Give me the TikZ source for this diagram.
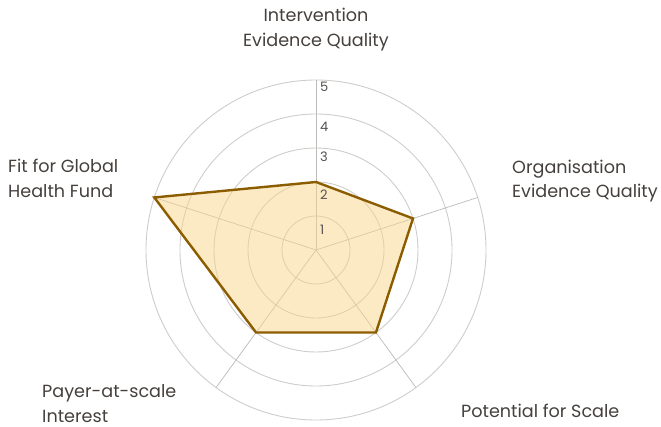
\documentclass[tikz,border=0pt]{standalone}
\usepackage{fontspec}
\setmainfont{Poppins}
\usetikzlibrary{calc}
\definecolor{txt}{HTML}{45403D}
\definecolor{ringc}{HTML}{CFCDCB}
\definecolor{axisc}{HTML}{BDBAB7}
\definecolor{polyline}{HTML}{8C5D00}
\definecolor{polyfill}{HTML}{F9D58C}
\definecolor{numc}{HTML}{55504D}
\tikzset{
  ring/.style={draw=ringc, line width=0.9pt},
  axisline/.style={draw=axisc, line width=0.7pt},
  lbl/.style={text=txt, font=\fontsize{17.6}{24.5}\selectfont, inner sep=0pt, align=left},
  num/.style={text=numc, font=\fontsize{13}{14}\selectfont, inner sep=0pt, anchor=north west},
  poly/.style={draw=polyline, line width=2.4pt, line join=miter, fill=polyfill, fill opacity=0.5}
}
\begin{document}
\begin{tikzpicture}[x=1pt,y=-1pt]
\useasboundingbox (0,0) rectangle (661,427);
\coordinate (c) at (316,250);
\foreach \r in {1,...,5} {
  \draw[ring] (c) circle[radius=34*\r pt];
}
% axes
\foreach \a/\n in {90/A,18/B,-54/C,-126/D,162/E} {
  \coordinate (ax\n) at ($(c)+(\a:170pt)$);
  \draw[axisline] (c) -- (ax\n);
}
% data points
\coordinate (pA) at ($(c)+(90:68pt)$);
\coordinate (pB) at ($(c)+(18:102pt)$);
\coordinate (pC) at ($(c)+(-54:102pt)$);
\coordinate (pD) at ($(c)+(-126:102pt)$);
\coordinate (pE) at ($(c)+(162:170pt)$);
\draw[poly] (pA) -- (pB) -- (pC) -- (pD) -- (pE) -- cycle;
% ring numbers
\foreach \r/\y in {1/225,2/190,3/152,4/122,5/82} {
  \node[num] (n\r) at (320,\y) {\r};
}
% labels
\node[lbl, align=center] (lA) at (316,29.5) {Intervention\\Evidence Quality};
\node[lbl, anchor=west] (lE) at (8,178.5) {Fit for Global\\Health Fund};
\node[lbl, anchor=west] (lB) at (512,181) {Organisation\\Evidence Quality};
\node[lbl, anchor=west] (lD) at (42,403.5) {Payer-at-scale\\Interest};
\node[lbl, anchor=west] (lC) at (461,411) {Potential for Scale};
\end{tikzpicture}
\end{document}
